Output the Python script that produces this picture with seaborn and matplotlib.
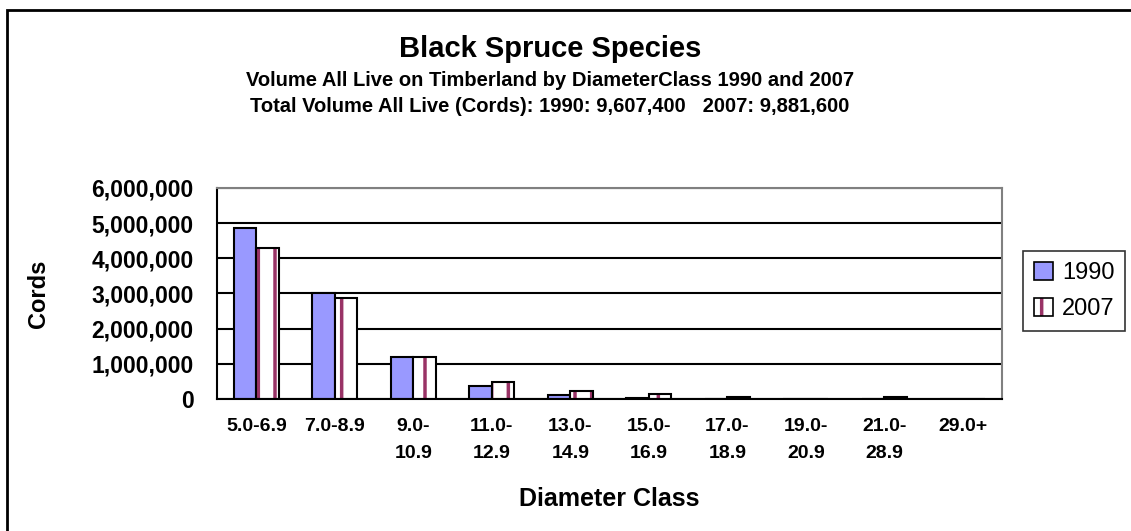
import matplotlib.pyplot as plt
import numpy as np
import pandas as pd
import seaborn as sns
from matplotlib.legend_handler import HandlerTuple
from matplotlib.patches import Patch, Rectangle
from matplotlib.ticker import FuncFormatter

sns.set_style("white")
plt.rcParams["font.family"] = ["Liberation Sans", "DejaVu Sans"]
plt.rcParams["hatch.linewidth"] = 2.5
for k in ["text.color", "axes.labelcolor", "xtick.color", "ytick.color"]:
    plt.rcParams[k] = "black"

# Данные
classes = ["5.0-6.9", "7.0-8.9", "9.0-\n10.9", "11.0-\n12.9", "13.0-\n14.9",
           "15.0-\n16.9", "17.0-\n18.9", "19.0-\n20.9", "21.0-\n28.9", "29.0+"]
years = ["1990", "2007"]
cords_1990 = [4860000, 3000000, 1190000, 370000, 110000, 40000, 10000, 5000, 10000, 0]
cords_2007 = [4300000, 2860000, 1190000, 470000, 230000, 130000, 50000, 10000, 50000, 0]

df = pd.DataFrame({
    "Diameter Class": classes * 2,
    "Year": [years[0]] * len(classes) + [years[1]] * len(classes),
    "Cords": cords_1990 + cords_2007,
})

blue = "#9999FF"
maroon = "#993366"

fig = plt.figure(figsize=(11.31, 5.31), dpi=100)
ax = fig.add_axes([0.1919, 0.2486, 0.886 - 0.1919, 0.646 - 0.2486])

sns.barplot(data=df, x="Diameter Class", y="Cords", hue="Year", palette=[blue, "white"],
            width=0.57, edgecolor="black", linewidth=1.5, saturation=1, legend=False, ax=ax)

# штриховка для 2007
for bar in ax.containers[1]:
    bar.set_facecolor("white")
    bar.set_edgecolor(maroon)
    bar.set_hatch("|")
    bar.set_linewidth(0)
    ax.add_patch(Rectangle((bar.get_x(), bar.get_y()), bar.get_width(), bar.get_height(),
                           fill=False, edgecolor="black", linewidth=1.5, zorder=bar.get_zorder() + 0.1))

ax.set_ylim(0, 6000000)
ax.set_xlim(-0.5, len(classes) - 0.5)
ax.set_yticks(np.arange(0, 6000001, 1000000))
ax.yaxis.set_major_formatter(FuncFormatter(lambda v, p: f"{int(v):,}"))
ax.set_axisbelow(True)
ax.yaxis.grid(True, color="black", linewidth=1.5)

ax.set_xticks(np.arange(-0.5, len(classes), 1.0), minor=True)
ax.tick_params(axis="x", which="major", length=0, pad=14, labelsize=14)
ax.tick_params(axis="x", which="minor", length=6, width=1.5, color="black", direction="out")
ax.tick_params(axis="y", length=6.5, width=1.5, color="black", direction="out", pad=10.5, labelsize=16.5)
for lab in ax.get_xticklabels() + ax.get_yticklabels():
    lab.set_fontweight("bold")
for lab in ax.get_xticklabels():
    lab.set_linespacing(1.75)

for s in ["left", "bottom"]:
    ax.spines[s].set_color("black")
    ax.spines[s].set_linewidth(1.5)
for s in ["top", "right"]:
    ax.spines[s].set_color("#808080")
    ax.spines[s].set_linewidth(1.5)

ax.set_xlabel("Diameter Class", fontsize=18, fontweight="bold")
ax.xaxis.set_label_coords(0.5, -0.415)
ax.set_ylabel("Cords", fontsize=17, fontweight="bold")
ax.yaxis.set_label_coords(-0.2127, 0.5)

h1990 = Patch(facecolor=blue, edgecolor="black", linewidth=1.2)
h2007 = (Patch(facecolor="white", edgecolor=maroon, hatch="|", linewidth=0),
         Patch(facecolor="none", edgecolor="black", linewidth=1.2))
leg = fig.legend([h1990, h2007], years, loc="upper left", bbox_to_anchor=(1023 / 1131, 1 - 251 / 531),
                 handler_map={tuple: HandlerTuple(ndivide=1)},
                 fancybox=False, edgecolor="black", fontsize=17, handlelength=0.8,
                 handleheight=0.8, handletextpad=0.4, borderpad=0.45, labelspacing=0.6,
                 borderaxespad=0)
leg.get_frame().set_linewidth(1.2)

fig.text(0.4863, 1 - 49 / 531, "Black Spruce Species", ha="center", va="center",
         fontsize=21, fontweight="bold")
fig.text(0.4863, 1 - 80 / 531, "Volume All Live on Timberland by DiameterClass 1990 and 2007",
         ha="center", va="center", fontsize=14.5, fontweight="bold")
fig.text(0.4863, 1 - 106 / 531, "Total Volume All Live (Cords): 1990: 9,607,400   2007: 9,881,600",
         ha="center", va="center", fontsize=14.5, fontweight="bold")

# рамка
fig.add_artist(Rectangle((7 / 1131, -0.2), 1.2, 1.2 - 10 / 531, transform=fig.transFigure,
                         fill=False, edgecolor="black", linewidth=2))

fig.savefig("out.png", dpi=100)
